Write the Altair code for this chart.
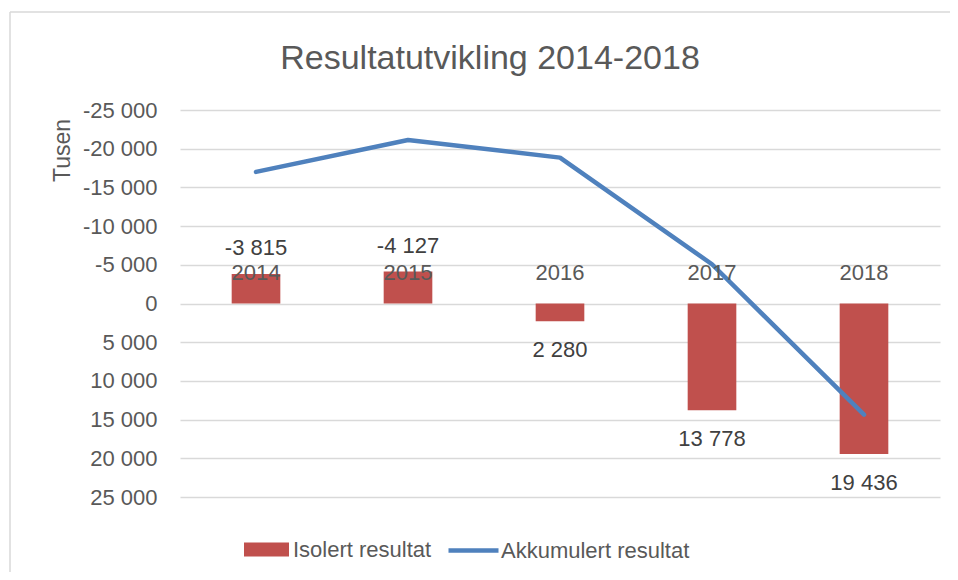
import altair as alt
import pandas as pd

years = ["2014", "2015", "2016", "2017", "2018"]
isolert = [-3815, -4127, 2280, 13778, 19436]
akkumulert = [-17000, -21127, -18847, -5069, 14367]
y_ticks = [-25000, -20000, -15000, -10000, -5000, 0, 5000, 10000, 15000, 20000, 25000]

FONT = "Liberation Sans"
GREY = "#595959"
RED = "#C0504D"
BLUE = "#4F81BD"

df = pd.DataFrame({"year": years, "isolert": isolert, "akkumulert": akkumulert})
df["s1"] = "Isolert resultat"
df["s2"] = "Akkumulert resultat"

num_fmt = "(datum.{f} < 0 ? '-' : '') + replace(format(abs(datum.{f}), ','), ',', ' ')"

yscale = alt.Scale(domain=[-25000, 25000], reverse=True, nice=False, zero=False)
yaxis = alt.Axis(
    values=y_ticks,
    labelExpr="(datum.value < 0 ? '-' : '') + replace(format(abs(datum.value), ','), ',', ' ')",
    labelOverlap=False,
    grid=True,
    gridColor="#D9D9D9",
    gridWidth=1.5,
    domain=False,
    ticks=False,
    labelPadding=23,
    labelFontSize=22,
    labelColor=GREY,
    labelFont=FONT,
    title="Tusen",
    titleFont=FONT,
    titleFontSize=23,
    titleFontWeight="normal",
    titleColor=GREY,
    titleX=-118,
    titleY=40,
    titleAlign="center",
    titleBaseline="middle",
    titleAngle=270,
)
xenc = alt.X("year:N", axis=None, scale=alt.Scale(paddingInner=0.68, paddingOuter=0.34))

base = alt.Chart(df).encode(x=xenc)

bars = base.mark_bar().encode(
    y=alt.Y("isolert:Q", scale=yscale, axis=yaxis),
    fill=alt.Fill(
        "s1:N",
        scale=alt.Scale(domain=["Isolert resultat"], range=[RED]),
        legend=alt.Legend(
            title=None,
            orient="none",
            legendX=64,
            legendY=417,
            symbolType="M-1,-0.31L1,-0.31L1,0.31L-1,0.31Z",
            symbolSize=2025,
            symbolStrokeWidth=0,
            labelFontSize=22,
            labelColor=GREY,
            labelFont=FONT,
            labelOffset=4,
            labelLimit=400,
            padding=0,
        ),
    ),
)

line = base.mark_line(strokeWidth=4.5, strokeCap="round", strokeJoin="round").encode(
    y=alt.Y("akkumulert:Q", scale=yscale, axis=yaxis),
    stroke=alt.Stroke(
        "s2:N",
        scale=alt.Scale(domain=["Akkumulert resultat"], range=[BLUE]),
        legend=alt.Legend(
            title=None,
            orient="none",
            legendX=266,
            legendY=413,
            symbolType="stroke",
            symbolSize=2500,
            symbolStrokeWidth=4.5,
            labelFontSize=22,
            labelColor=GREY,
            labelFont=FONT,
            labelOffset=0,
            labelLimit=400,
            padding=0,
        ),
    ),
)

year_labels = base.mark_text(
    dy=-24, baseline="alphabetic", fontSize=22, color=GREY, font=FONT
).encode(y=alt.Y(datum=0, scale=yscale, axis=yaxis), text="year:N")

val = base.transform_calculate(lbl=num_fmt.format(f="isolert"))
neg_labels = val.transform_filter("datum.isolert < 0").mark_text(
    dy=-26, baseline="middle", fontSize=22, color="#404040", font=FONT
).encode(y=alt.Y("isolert:Q", scale=yscale, axis=yaxis), text="lbl:N")
pos_labels = val.transform_filter("datum.isolert > 0").mark_text(
    dy=29, baseline="middle", fontSize=22, color="#404040", font=FONT
).encode(y=alt.Y("isolert:Q", scale=yscale, axis=yaxis), text="lbl:N")

deco = alt.Chart(pd.DataFrame({"t": ["Resultatutvikling 2014-2018"]}))
title = deco.mark_text(fontSize=34, color=GREY, font=FONT, baseline="alphabetic", align="center").encode(
    x=alt.value(310), y=alt.value(-41), text="t:N"
)
frame_left = deco.mark_rule(color="#D9D9D9", strokeWidth=1.5).encode(
    x=alt.value(-170), y=alt.value(-98), y2=alt.value(480)
)
frame_top = deco.mark_rule(color="#D9D9D9", strokeWidth=1.5).encode(
    x=alt.value(-170), x2=alt.value(800), y=alt.value(-98)
)

chart = (
    alt.layer(bars, frame_left, frame_top, line, year_labels, neg_labels, pos_labels, title)
    .properties(
        width=760,
        height=387,
        padding={"left": 172, "top": 102, "right": 10, "bottom": 75},
        autosize=alt.AutoSizeParams(type="none"),
    )
    .configure_view(stroke=None)
)

chart.save("out.html", embed_options={"renderer": "svg", "actions": False})
